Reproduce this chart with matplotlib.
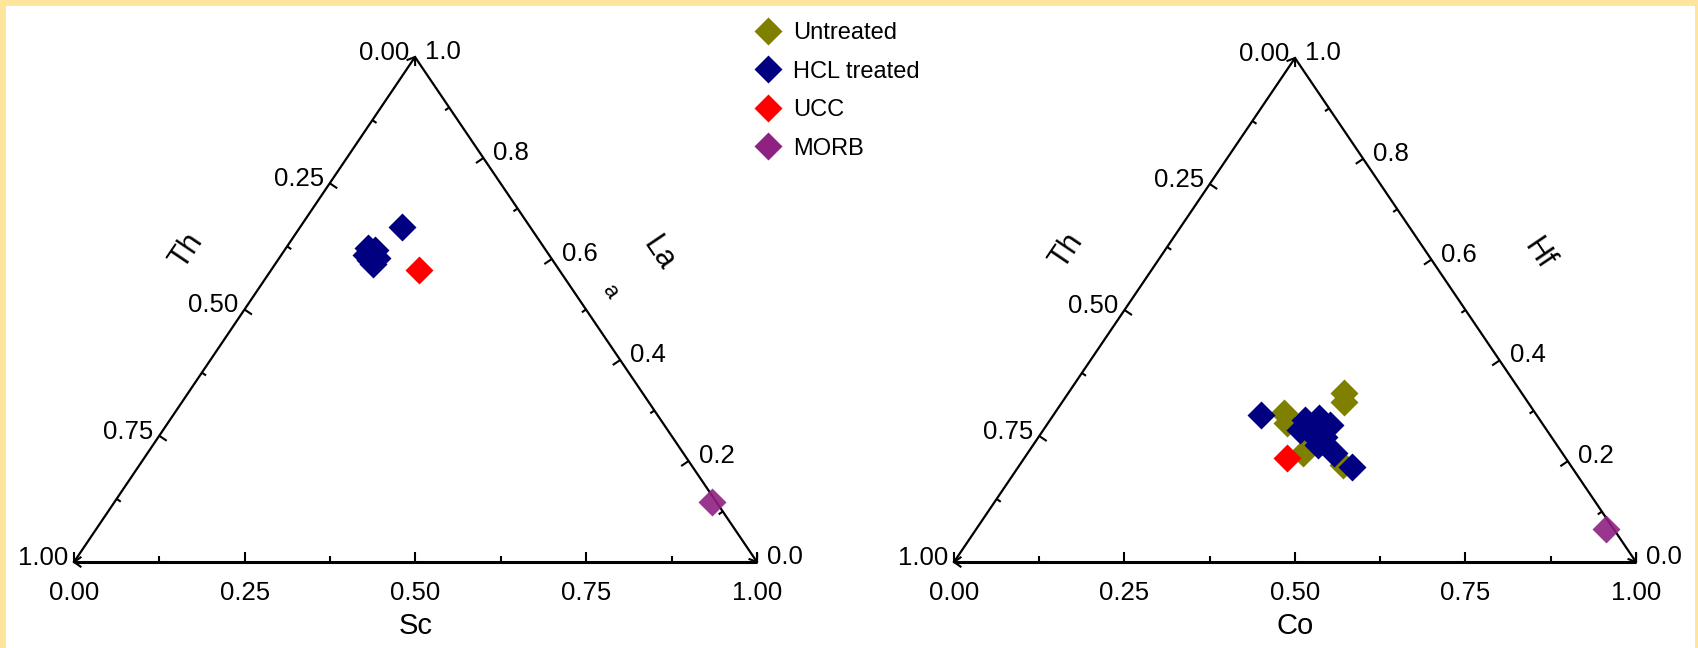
import numpy as np
import matplotlib
matplotlib.use("Agg")
import matplotlib.pyplot as plt
from matplotlib.lines import Line2D
from matplotlib.patches import Rectangle

plt.rcParams["font.family"] = ["Liberation Sans", "DejaVu Sans"]

W, H = 1698, 648
YELLOW = "#FFE49C"
OLIVE = "#808000"; NAVY = "#000080"; RED = "#FF0000"; PURPLE = "#8E2182"

# ---- data (fractions) ----
# left diagram: Th - La - Sc
l_hcl_th = [0.187, 0.258, 0.250, 0.267, 0.256, 0.268, 0.266]
l_hcl_la = [0.664, 0.621, 0.618, 0.598, 0.601, 0.608, 0.591]
l_hcl_sc = [0.149, 0.121, 0.132, 0.135, 0.143, 0.124, 0.143]
l_ucc_th, l_ucc_la, l_ucc_sc = [0.206], [0.578], [0.216]
l_morb_th, l_morb_la, l_morb_sc = [0.006], [0.119], [0.875]

# right diagram: Th - Hf - Co
r_unt_th = [0.368, 0.373, 0.260, 0.270, 0.381, 0.334]
r_unt_hf = [0.296, 0.276, 0.335, 0.317, 0.216, 0.192]
r_unt_co = [0.336, 0.351, 0.405, 0.413, 0.403, 0.474]
r_hcl_th = [0.404, 0.323, 0.345, 0.322, 0.312, 0.349, 0.333, 0.351, 0.335, 0.361]
r_hcl_hf = [0.292, 0.188, 0.282, 0.285, 0.272, 0.255, 0.249, 0.232, 0.216, 0.262]
r_hcl_co = [0.304, 0.489, 0.373, 0.393, 0.416, 0.396, 0.418, 0.417, 0.449, 0.377]
r_ucc_th, r_ucc_hf, r_ucc_co = [0.408], [0.206], [0.386]
r_morb_th, r_morb_hf, r_morb_co = [0.012], [0.0645], [0.9235]

LEGEND = [("Untreated", OLIVE), ("HCL treated", NAVY), ("UCC", RED), ("MORB", PURPLE)]

# triangle frames in pixel space: bottom-left (Th=1), bottom-right (3rd=1), apex (2nd=1)
LEFT = (np.array([74.0, 562.0]), np.array([757.0, 562.0]), np.array([415.0, 57.0]))
RIGHT = (np.array([954.0, 562.0]), np.array([1636.0, 562.0]), np.array([1295.0, 58.0]))

fig = plt.figure(figsize=(W / 100, H / 100), dpi=100, facecolor=YELLOW)
ax = fig.add_axes([0, 0, 1, 1])
ax.set_xlim(0, W); ax.set_ylim(H, 0); ax.axis("off")
ax.add_patch(Rectangle((6, 6), W - 9, H, facecolor="white", edgecolor="none", zorder=0))


def tern(fr, th, top, right):
    bl, br, ap = fr
    th, top, right = map(np.asarray, (th, top, right))
    s = th + top + right
    x = (th * bl[0] + right * br[0] + top * ap[0]) / s
    y = (th * bl[1] + right * br[1] + top * ap[1]) / s
    return x, y


def chevron(tip, d, size=8, spread=35):
    d = d / np.linalg.norm(d)
    for a in (spread, -spread):
        r = np.radians(a)
        v = np.array([d[0] * np.cos(r) - d[1] * np.sin(r), d[0] * np.sin(r) + d[1] * np.cos(r)])
        p = tip - size * v
        ax.plot([p[0], tip[0]], [p[1], tip[1]], color="black", lw=1.5)


def frame(fr, th_name, top_name, right_name):
    bl, br, ap = fr
    kw = dict(color="black", solid_capstyle="butt")
    ax.plot([bl[0], br[0]], [bl[1], br[1]], lw=2.2, **kw)
    ax.plot([bl[0], ap[0]], [bl[1], ap[1]], lw=1.6, **kw)
    ax.plot([br[0], ap[0]], [br[1], ap[1]], lw=1.6, **kw)
    fs = 18.5
    # bottom axis
    for i in range(9):
        v = i / 8
        p = bl + v * (br - bl)
        L = 10 if i % 2 == 0 else 6
        ax.plot([p[0], p[0]], [p[1], p[1] - L], lw=1.5, **kw)
        if i % 2 == 0:
            ax.text(p[0], p[1] + 31, f"{v:.2f}", fontsize=fs, ha="center", va="center")
    # left axis (Th, 0 at apex)
    dl = (ap - bl) / np.linalg.norm(ap - bl)
    nl = np.array([-dl[1], dl[0]])
    for i in range(9):
        v = i / 8
        p = ap + v * (bl - ap)
        if 0 < i < 8:
            L = 9 if i % 2 == 0 else 5
            ax.plot([p[0], p[0] + L * nl[0]], [p[1], p[1] + L * nl[1]], lw=1.5, **kw)
        if i % 2 == 0:
            ax.text(p[0] - 6, p[1] - 4, f"{v:.2f}", fontsize=fs, ha="right", va="center")
    # right axis (0 at bottom-right)
    dr = (ap - br) / np.linalg.norm(ap - br)
    nr = np.array([dr[1], -dr[0]])
    for i in range(11):
        v = i / 10
        p = br + v * (ap - br)
        if 0 < i < 10:
            L = 9 if i % 2 == 0 else 5
            ax.plot([p[0], p[0] + L * nr[0]], [p[1], p[1] + L * nr[1]], lw=1.5, **kw)
        if i % 2 == 0:
            ax.text(p[0] + 10, p[1] - 5, f"{v:.1f}", fontsize=fs, ha="left", va="center")
    chevron(ap, ap - bl)
    chevron(bl, np.array([-1.0, 0.0]))
    chevron(br, br - ap)
    ang = np.degrees(np.arctan2(bl[1] - ap[1], ap[0] - bl[0]))
    ax.text(bl[0] + 113, bl[1] - 311, th_name, fontsize=22, rotation=ang, ha="center", va="center")
    ax.text(bl[0] + 585, bl[1] - 308, top_name, fontsize=22, rotation=-ang, ha="center", va="center")
    ax.text((bl[0] + br[0]) / 2, bl[1] + 64, right_name, fontsize=21, ha="center", va="center")


MS = 14.5
frame(LEFT, "Th", "La", "Sc")
ax.text(LEFT[0][0] + 536, LEFT[0][1] - 270, "a", fontsize=16, rotation=-56, ha="center", va="center")
x, y = tern(LEFT, l_hcl_th, l_hcl_la, l_hcl_sc)
ax.plot(x, y, "D", color=NAVY, ms=MS, mec="none")
x, y = tern(LEFT, l_ucc_th, l_ucc_la, l_ucc_sc)
ax.plot(x, y, "D", color=RED, ms=MS, mec="none")
x, y = tern(LEFT, l_morb_th, l_morb_la, l_morb_sc)
ax.plot(x, y, "D", color=PURPLE, ms=MS, mec="none", alpha=0.9)

frame(RIGHT, "Th", "Hf", "Co")
x, y = tern(RIGHT, r_unt_th, r_unt_hf, r_unt_co)
ax.plot(x, y, "D", color=OLIVE, ms=MS, mec="none")
x, y = tern(RIGHT, r_hcl_th, r_hcl_hf, r_hcl_co)
ax.plot(x, y, "D", color=NAVY, ms=MS, mec="none")
x, y = tern(RIGHT, r_ucc_th, r_ucc_hf, r_ucc_co)
ax.plot(x, y, "D", color=RED, ms=MS, mec="none")
x, y = tern(RIGHT, r_morb_th, r_morb_hf, r_morb_co)
ax.plot(x, y, "D", color=PURPLE, ms=MS, mec="none", alpha=0.9)

handles = [Line2D([], [], marker="D", ls="none", color=c, ms=MS, mec="none", label=n)
           for n, c in LEGEND]
fig.legend(handles=handles, loc="upper left", bbox_to_anchor=(754 / W, 1 - 22 / H),
           frameon=False, fontsize=17, handletextpad=0.45, labelspacing=0.7,
           borderpad=0, borderaxespad=0, handlelength=1.2)

fig.savefig("out.png", dpi=100, facecolor=YELLOW)
